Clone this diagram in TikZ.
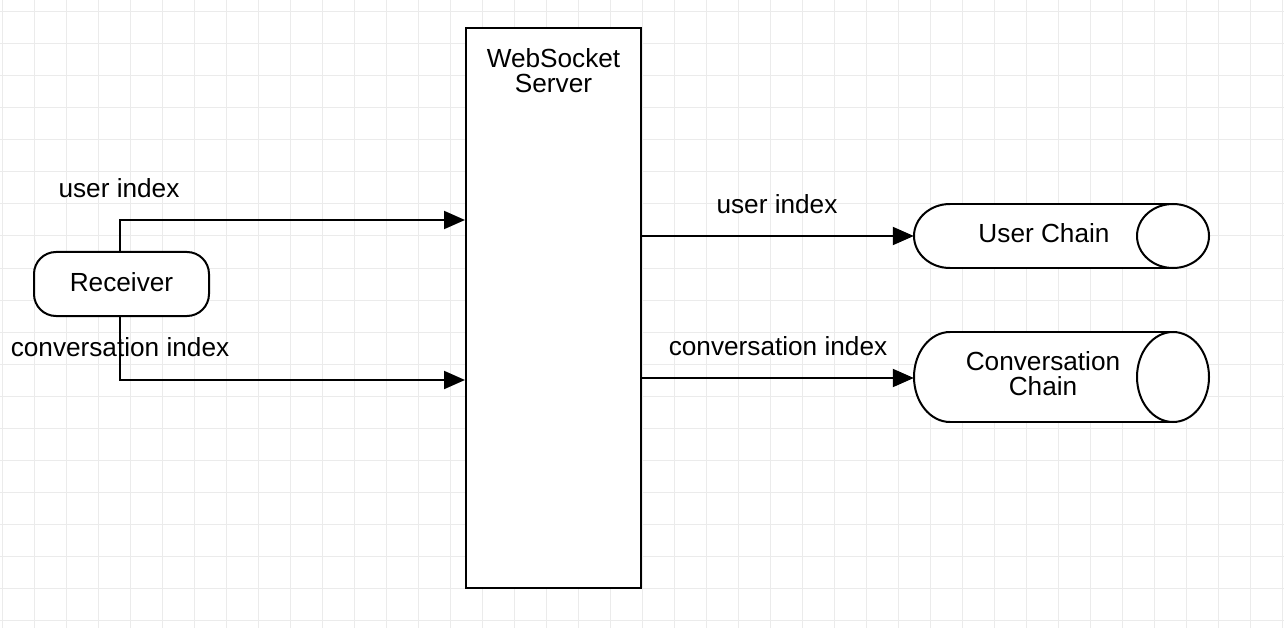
\documentclass[tikz,border=0pt]{standalone}
\usepackage{fontspec}
\setmainfont{Liberation Sans}
\usetikzlibrary{arrows.meta}
\definecolor{gridc}{HTML}{EBEBEB}
\tikzset{
  lbl/.style={font=\fontsize{26.2}{26}\selectfont, inner sep=0pt, align=center},
  conn/.style={line width=2pt, -{Triangle[length=21pt,width=18pt]}},
  shp/.style={line width=2pt, fill=white},
  anchorbox/.style={rectangle, inner sep=0pt, draw=none},
}
\begin{document}
\begin{tikzpicture}[x=1pt,y=-1pt]
\path[use as bounding box] (0,0) rectangle (1284,628);
\fill[white] (0,0) rectangle (1284,628);
% grid
\foreach \x in {2,34,...,1282} \draw[gridc, line width=1pt] (\x,0) -- (\x,628);
\foreach \y in {12,44,...,620} \draw[gridc, line width=1pt] (0,\y) -- (1284,\y);

% WebSocket server
\node[draw, shp, rectangle, minimum width=175pt, minimum height=560pt, inner sep=0pt] (ws) at (553.5,308) {};
\node[lbl] (wsl) at (553.5,71) {WebSocket\\[-1pt]Server};

% Receiver
\node[draw, shp, rectangle, rounded corners=22pt, minimum width=175pt, minimum height=64pt, inner sep=0pt] (rec) at (121.5,284) {};
\node[lbl] (recl) at (121.5,282) {Receiver};

% User Chain cylinder
\node[anchorbox, minimum width=295pt, minimum height=64pt] (uc) at (1061.5,236) {};
\fill[white] (950,204) rectangle (1173,268);
\fill[white] (950,204) arc[start angle=90, end angle=270, x radius=36pt, y radius=32pt] -- cycle;
\draw[line width=2pt] (950,204) -- (1173,204) (950,268) -- (1173,268);
\draw[line width=2pt] (950,204) arc[start angle=90, end angle=270, x radius=36pt, y radius=32pt];
\draw[shp] (1173,236) ellipse [x radius=36pt, y radius=32pt];
\node[lbl] (ucl) at (1044,233) {User Chain};

% Conversation Chain cylinder
\node[anchorbox, minimum width=295pt, minimum height=90pt] (cc) at (1061.5,377) {};
\fill[white] (950,332) rectangle (1173,422);
\fill[white] (950,332) arc[start angle=90, end angle=270, x radius=36pt, y radius=45pt] -- cycle;
\draw[line width=2pt] (950,332) -- (1173,332) (950,422) -- (1173,422);
\draw[line width=2pt] (950,332) arc[start angle=90, end angle=270, x radius=36pt, y radius=45pt];
\draw[shp] (1173,377) ellipse [x radius=36pt, y radius=45pt];
\node[lbl] (ccl) at (1043,374) {Conversation\\[-1pt]Chain};

% connectors
\draw[conn] (rec.north -| 120,0) |- (ws.west |- 0,220);
\draw[conn] (rec.south -| 120,0) |- (ws.west |- 0,380);
\draw[conn] (ws.east |- uc.west) -- (uc.west);
\draw[conn] (ws.east |- 0,378) -- (cc.west |- 0,378);

% labels
\node[lbl] (l1) at (119,188) {user index};
\node[lbl] (l2) at (120,347) {conversation index};
\node[lbl] (l3) at (777,204) {user index};
\node[lbl] (l4) at (778,346) {conversation index};
\end{tikzpicture}
\end{document}
